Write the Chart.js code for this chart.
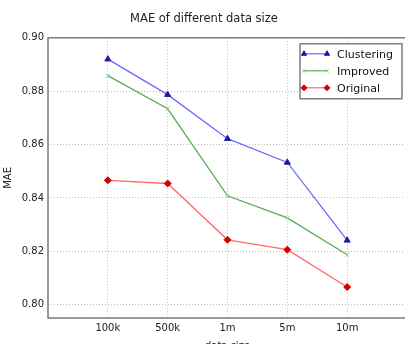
<!DOCTYPE html>
<html>
<head>
<meta charset="utf-8">
<script src="https://cdn.jsdelivr.net/npm/chart.js@4.4.1/dist/chart.umd.min.js"></script>
<style>
  html, body { margin: 0; padding: 0; background: #fff; overflow: hidden; }
  #wrap { width: 405px; height: 344px; overflow: hidden; }
</style>
</head>
<body>
<div id="wrap"><canvas id="chart" width="412" height="352"></canvas></div>
<script>
// data
var sizes = ['100k', '500k', '1m', '5m', '10m'];
var clustering = [0.8920, 0.8787, 0.8622, 0.8533, 0.8241];
var improved = [0.8858, 0.8734, 0.8408, 0.8325, 0.8187];
var original = [0.8466, 0.8454, 0.8243, 0.8206, 0.8066];
var yTicks = [0.80, 0.82, 0.84, 0.86, 0.88, 0.90];

var FONT = 'DejaVu Sans';

function pts(arr)
{
    return arr.map(function (v, i) { return { x: i + 1, y: v }; });
}

// box round the plot, like matplotlib spines
var frame = {
    id: 'frame',
    afterDatasetsDraw: function (chart) {
        var a = chart.chartArea, c = chart.ctx;
        c.save();
        c.strokeStyle = '#7a7a7a';
        c.lineWidth = 1.5;
        c.strokeRect(a.left, a.top, a.right - a.left, a.bottom - a.top);
        c.restore();
    }
};

// legend box inside the plot, top right, with line + two markers
var boxLegend = {
    id: 'boxLegend',
    afterDraw: function (chart) {
        var a = chart.chartArea, c = chart.ctx;
        var right = a.right - 5, top = a.top + 6, w = 102, h = 55;
        c.save();
        c.fillStyle = '#fff';
        c.fillRect(right - w, top, w, h);
        c.strokeStyle = '#6a6a6a';
        c.lineWidth = 1.3;
        c.strokeRect(right - w, top, w, h);
        c.font = '11px "' + FONT + '"';
        c.textBaseline = 'middle';
        chart.data.datasets.forEach(function (ds, i) {
            var y = top + 10 + i * 17;
            var x0 = right - w + 4, x1 = x0 + 23;
            c.strokeStyle = ds.borderColor;
            c.lineWidth = 1.2;
            c.beginPath(); c.moveTo(x0, y); c.lineTo(x1, y); c.stroke();
            [x0, x1].forEach(function (x) {
                c.fillStyle = ds.pointBackgroundColor;
                c.strokeStyle = ds.pointBorderColor;
                c.lineWidth = 1;
                Chart.helpers.drawPoint(c, {
                    pointStyle: ds.pointStyle, radius: ds.pointRadius - 0.5,
                    borderWidth: 1
                }, x, y);
            });
            c.fillStyle = '#111';
            c.fillText(ds.label, x1 + 10, y + 1);
        });
        c.restore();
    }
};

var chart = new Chart(document.getElementById('chart').getContext('2d'), {
    type: 'line',
    data: {
        datasets: [{
            label: 'Clustering',
            data: pts(clustering),
            borderColor: '#6b6bff',
            borderWidth: 1.3,
            pointStyle: 'triangle',
            pointRadius: 3.5,
            pointBackgroundColor: '#1a1aa8',
            pointBorderColor: '#1a1aa8',
            pointBorderWidth: 1
        }, {
            label: 'Improved',
            data: pts(improved),
            borderColor: '#5aaa5a',
            borderWidth: 1.3,
            pointStyle: 'crossRot',
            pointRadius: 3,
            pointBackgroundColor: '#8ccc8c',
            pointBorderColor: '#8ccc8c',
            pointBorderWidth: 1
        }, {
            label: 'Original',
            data: pts(original),
            borderColor: '#ff6a6a',
            borderWidth: 1.3,
            pointStyle: 'rectRot',
            pointRadius: 3.5,
            pointBackgroundColor: '#d40000',
            pointBorderColor: '#d40000',
            pointBorderWidth: 1
        }]
    },
    options: {
        responsive: false,
        animation: false,
        devicePixelRatio: 1,
        layout: { padding: { left: 0, top: 1, right: 4, bottom: 0 } },
        plugins: {
            legend: { display: false },
            tooltip: { enabled: false },
            title: {
                display: true,
                text: 'MAE of different data size',
                color: '#222',
                font: { family: FONT, size: 11.5, weight: 'normal' },
                padding: { top: 11, bottom: 12 }
            }
        },
        scales: {
            x: {
                type: 'linear',
                min: 0,
                max: 6,
                afterBuildTicks: function (s) {
                    s.ticks = sizes.map(function (_, i) { return { value: i + 1 }; });
                },
                afterFit: function (s) { s.height = 34; },
                ticks: {
                    color: '#222',
                    padding: 4,
                    maxRotation: 0,
                    font: { family: FONT, size: 10 },
                    callback: function (v) { return sizes[v - 1]; }
                },
                grid: { color: '#bdbdbd', drawTicks: false },
                border: { display: false, dash: [1, 2] },
                title: {
                    display: true,
                    text: 'data size',
                    color: '#222',
                    font: { family: FONT, size: 10 },
                    padding: { top: 6, bottom: 0 }
                }
            },
            y: {
                min: 0.795,
                max: 0.90,
                afterBuildTicks: function (s) {
                    s.ticks = yTicks.map(function (v) { return { value: v }; });
                },
                afterFit: function (s) { s.width = 48; },
                ticks: {
                    color: '#222',
                    padding: 4,
                    font: { family: FONT, size: 10 },
                    callback: function (v) { return v.toFixed(2); }
                },
                grid: { color: '#bdbdbd', drawTicks: false },
                border: { display: false, dash: [1, 2] },
                title: {
                    display: true,
                    text: 'MAE',
                    color: '#222',
                    font: { family: FONT, size: 10 },
                    padding: { top: 2, bottom: 0 }
                }
            }
        }
    },
    plugins: [frame, boxLegend]
});
</script>
</body>
</html>
